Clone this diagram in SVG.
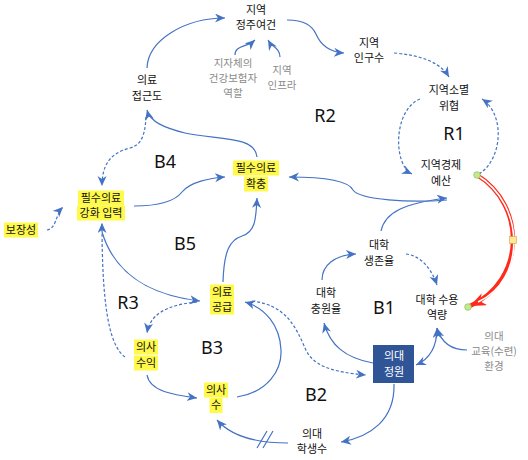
<svg xmlns="http://www.w3.org/2000/svg" width="528" height="460" viewBox="0 0 528 460">
<style>
text{font-family:"Noto Sans CJK KR","Noto Sans",sans-serif;font-size:11px;text-anchor:middle;fill:#111}
.g{fill:#8a8a8a;font-size:10.5px}
.w{fill:#fff}
.loop{font-family:"Noto Sans","Noto Sans CJK KR",sans-serif;font-size:18px;fill:#111}
.hl{fill:#fff94a}
.c{fill:none;stroke:#4472c4;stroke-width:1.2}
.d{stroke-dasharray:3 2}
.a{marker-end:url(#ah)}
</style>
<defs>
<marker id="ah" markerUnits="userSpaceOnUse" markerWidth="11" markerHeight="10" refX="10" refY="4.5" orient="auto">
<path d="M0,0 L10,4.5 L0,9 L3,4.5 z" fill="#4472c4"/>
</marker>
<marker id="ahs" markerUnits="userSpaceOnUse" markerWidth="11" markerHeight="10" refX="10" refY="4.5" orient="auto-start-reverse">
<path d="M0,0 L10,4.5 L0,9 L3,4.5 z" fill="#4472c4"/>
</marker>
<marker id="ar" markerUnits="userSpaceOnUse" markerWidth="18" markerHeight="14" refX="16" refY="6.5" orient="auto">
<path d="M0,0 L16,6.5 L0,13 L5,6.5 z" fill="#ff2a1a"/>
</marker>
</defs>

<g id="connectors">
<path class="c a" d="M147,68 C148,40 185,18 225,18"/>
<path class="c a" d="M235,55 C235,45 246,48 255,40"/>
<path class="c a" d="M280,57 C280,48 272,47 268,40"/>
<path class="c a" d="M287,20 C305,20 312,26 316,34 C321,46 330,52 344,53"/>
<path class="c d a" d="M394,53 C420,55 440,62 449,77"/>
<path class="c d a" d="M420,99 C393,110 393,165 412,174"/>
<path class="c d a" d="M479,174 C502,160 506,115 482,99"/>
<path class="c a" d="M447,200 C410,203 360,200 353,190 C348,180 320,177 289,177"/>
<path class="c a" d="M381,231 C385,212 405,203 447,198"/>
<path class="c a" d="M257,157 C255,135 215,140 185,133 C165,128 150,122 147,110"/>
<path class="c d a" d="M146,117 C145,138 140,145 130,148 C110,153 102,165 102,186"/>
<path class="c a" d="M134,206 C160,206 175,201 182,192 C190,182 210,178 225,177"/>
<path class="c d a" d="M47,230 C57,228 55,215 63,207"/>
<path class="c a" d="M223,282 C224,250 230,240 242,236 C255,232 256,220 257,198"/>
<path class="c a" d="M102,232 C115,275 150,295 200,301"/>
<path class="c d a" d="M125,357 C108,345 102,300 102,223"/>
<path class="c d a" d="M197,302 C165,305 150,315 147,333"/>
<path class="c a" d="M147,375 C150,392 175,395 197,398"/>
<path class="c a" d="M237,397 C268,392 282,370 281,350 C280,325 265,308 245,302"/>
<path class="c d a" d="M252,301 C285,305 295,325 305,348 C312,365 330,372 366,375"/>
<path class="c a" d="M373,363 C345,358 330,345 324,323"/>
<path class="c a" d="M322,280 C322,265 335,255 356,254"/>
<path class="c d a" d="M406,254 C422,256 432,270 437,285"/>
<path class="c" style="marker-start:url(#ahs);marker-end:url(#ahs)" d="M437,328 C437,345 432,358 416,365"/>
<path class="c a" d="M467,350 C455,350 442,345 437,328"/>
<path class="c a" d="M394,384 C395,420 370,437 341,442"/>
<path class="c a" d="M288,443 C255,443 230,435 217,420"/>
<path class="c" d="M257,448 L267,431 M263,448 L273,431"/>
<path d="M477,175 C526,205 526,280 470,306" fill="none" stroke="#ff2a1a" stroke-width="4.2" marker-end="url(#ar)"/>
<path d="M477,175 C526,205 526,280 478,302" fill="none" stroke="#fff" stroke-width="1.6"/>
<rect x="509.5" y="236.5" width="7" height="7" fill="#ffe699" stroke="#c9a94a" stroke-width="0.6"/>
<circle cx="477" cy="175" r="3.3" fill="#c5e88e" stroke="#8cbf5a" stroke-width="0.7"/>
<circle cx="468" cy="307" r="3.3" fill="#c5e88e" stroke="#8cbf5a" stroke-width="0.7"/>
</g>

<g id="n-jeongju"><text x="256" y="14">지역</text><text x="256" y="29">정주여건</text></g>
<g id="n-insurer"><text class="g" x="233" y="67">지자체의</text><text class="g" x="233" y="82">건강보험자</text><text class="g" x="233" y="97">역할</text></g>
<g id="n-infra"><text class="g" x="282" y="74">지역</text><text class="g" x="282" y="89">인프라</text></g>
<g id="n-access"><text x="147" y="84">의료</text><text x="147" y="100">접근도</text></g>
<g id="n-pop"><text x="369" y="47">지역</text><text x="369" y="62">인구수</text></g>
<g id="n-extinct"><text x="449" y="94">지역소멸</text><text x="449" y="110">위협</text></g>
<g id="n-economy"><text x="441" y="169">지역경제</text><text x="441" y="185">예산</text></g>
<g id="n-expand"><rect class="hl" x="233" y="160.5" width="46" height="15"/><rect class="hl" x="244" y="176.5" width="24" height="15"/><text x="256" y="172">필수의료</text><text x="256" y="188">확충</text></g>
<g id="n-pressure"><rect class="hl" x="78" y="190.5" width="46" height="15"/><rect class="hl" x="77" y="205.5" width="48" height="15"/><text x="101" y="202">필수의료</text><text x="101" y="217">강화 입력</text></g>
<g id="n-coverage"><rect class="hl" x="4" y="222.5" width="34" height="15"/><text x="21" y="234">보장성</text></g>
<g id="n-survival"><text x="379" y="249">대학</text><text x="379" y="265">생존율</text></g>
<g id="n-supply"><rect class="hl" x="210" y="284.5" width="24" height="15"/><rect class="hl" x="210" y="299.5" width="24" height="15"/><text x="222" y="296">의료</text><text x="222" y="311">공급</text></g>
<g id="n-fill"><text x="326" y="297">대학</text><text x="326" y="313">충원율</text></g>
<g id="n-capacity"><text x="437" y="304">대학 수용</text><text x="437" y="319">역량</text></g>
<g id="n-env"><text class="g" x="494" y="340">의대</text><text class="g" x="494" y="355">교육(수련)</text><text class="g" x="494" y="370">환경</text></g>
<g id="n-income"><rect class="hl" x="134" y="339.5" width="24" height="15"/><rect class="hl" x="134" y="355.5" width="24" height="15"/><text x="146" y="351">의사</text><text x="146" y="367">수익</text></g>
<g id="n-quota"><rect x="373" y="345" width="41" height="38" fill="#2f5597"/><text class="w" x="394" y="360">의대</text><text class="w" x="394" y="376">정원</text></g>
<g id="n-doctors"><rect class="hl" x="204" y="382.5" width="24" height="15"/><rect class="hl" x="209.5" y="398" width="13" height="15"/><text x="216" y="394">의사</text><text x="216" y="409">수</text></g>
<g id="n-students"><text x="312" y="438">의대</text><text x="312" y="453">학생수</text></g>

<g id="loops">
<text class="loop" x="165" y="168">B4</text>
<text class="loop" x="325" y="122">R2</text>
<text class="loop" x="454" y="140">R1</text>
<text class="loop" x="185" y="250">B5</text>
<text class="loop" x="128" y="309">R3</text>
<text class="loop" x="384" y="314">B1</text>
<text class="loop" x="212" y="354">B3</text>
<text class="loop" x="316" y="401">B2</text>
</g>
</svg>
